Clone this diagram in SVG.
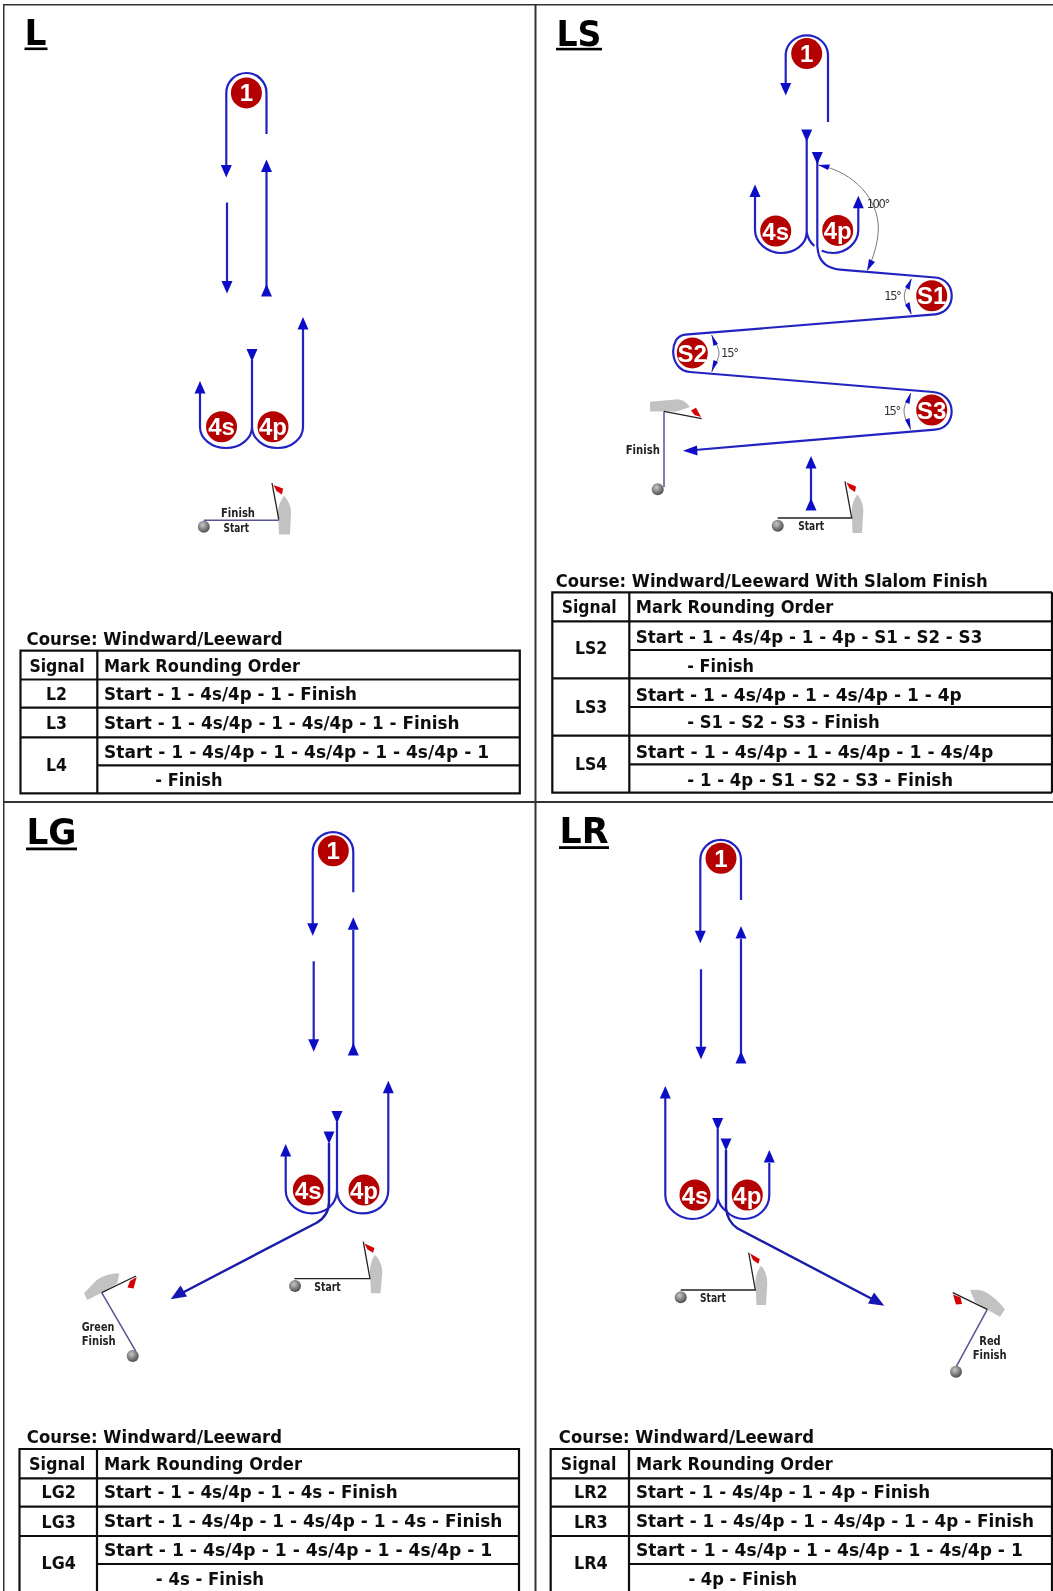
<svg xmlns="http://www.w3.org/2000/svg" xmlns:xlink="http://www.w3.org/1999/xlink" width="1053" height="1591" viewBox="0 0 1053 1591">
<style>
text{font-family:"DejaVu Sans","Liberation Sans",sans-serif;fill:#111}
.ti{font-weight:700;font-size:36px;fill:#000}
.c{font-weight:700;font-size:17px}
.t{font-weight:700;font-size:17px}
.sm{font-weight:700;font-size:11.5px;fill:#222}
.ang{font-size:11.5px;fill:#333}
.m{font-family:"Liberation Sans",Arial,sans-serif;font-weight:700;font-size:24px;fill:#fff;text-anchor:middle}
.mk{fill:#b50303}
.tb{fill:none;stroke:#111;stroke-width:2.2}
.fr{fill:none;stroke:#333;stroke-width:2}
.r{fill:none;stroke:#2222c0;stroke-width:2.2}
.d{fill:none;stroke:#1a1aa8;stroke-width:2.4}
.a{fill:#1010c8}
.g{fill:none;stroke:#777;stroke-width:1}
.boat{fill:#c2c2c2}
.flag{fill:#d40000}
.pole{fill:none;stroke:#222;stroke-width:1.3}
.ln{fill:none;stroke:#555590;stroke-width:1.5}
.ball{fill:url(#bg)}
</style>
<defs>
<radialGradient id="bg" cx="0.4" cy="0.35" r="0.7"><stop offset="0" stop-color="#c8c8c8"/><stop offset="1" stop-color="#444"/></radialGradient>
<path id="ad" class="a" d="M-5.5 0H5.5L0 12.5z"/>
<path id="au" class="a" d="M-5.5 12.5H5.5L0 0z"/>
<filter id="soft" x="0" y="0" width="100%" height="100%"><feGaussianBlur stdDeviation="0.4"/></filter>
</defs>
<rect width="1053" height="1591" fill="#fff"/>
<g filter="url(#soft)">
<g id="frame">
<path class="fr" d="M3.5 1591V4.5H1053M535.5 4.5V1591M3.5 802H1053"/>
</g>

<g id="titles">
<text class="ti" x="24.5" y="44.5" textLength="22" lengthAdjust="spacingAndGlyphs">L</text><rect x="24.5" y="47.5" width="23" height="2.6"/>
<text class="ti" x="556.5" y="45.5" textLength="45" lengthAdjust="spacingAndGlyphs">LS</text><rect x="556" y="47.8" width="46" height="2.6"/>
<text class="ti" x="26.5" y="844" textLength="50" lengthAdjust="spacingAndGlyphs">LG</text><rect x="26" y="847.5" width="51" height="2.8"/>
<text class="ti" x="559.5" y="842.7" textLength="49" lengthAdjust="spacingAndGlyphs">LR</text><rect x="559" y="846.2" width="50" height="2.8"/>
</g>

<g id="connectors">
<!-- L -->
<path class="r" d="M226.3 165V93A20.1 20 0 0 1 266.5 93V134M227 202.5V281M266.5 171V295M252 360V428M200 392V427A26 21 0 0 0 252 427A25.5 21 0 0 0 303 427V329"/>
<use xlink:href="#ad" x="226.3" y="165"/><use xlink:href="#ad" x="227" y="281"/><use xlink:href="#au" x="266.5" y="159.6"/><use xlink:href="#au" x="266.5" y="284"/><use xlink:href="#ad" x="252" y="349"/><use xlink:href="#au" x="200" y="381"/><use xlink:href="#au" x="303" y="317"/>
<!-- LS -->
<path class="r" d="M785.7 85V54A21.2 20 0 0 1 828 54V122M806.7 140V232M755 196V230C755 243 768 253 781 253C794 253 806.7 245 806.7 232C807.5 238 811 243 814.3 246M858.3 207V230C858.3 243 846 253 833 253C829 253 825 252 821.7 250.7M811 468V509"/>
<path class="r" d="M817.3 153V246C818 262 828 268.5 840 269.6L935 277.5C957.3 279 957.3 312.5 935 314.3L685 334.6C668.5 336 668.5 370.5 690 372L933 392C957.5 394 957.5 428 935 429.6L695 450"/>
<use xlink:href="#ad" x="785.7" y="83"/><use xlink:href="#ad" x="806.7" y="129.6"/><use xlink:href="#ad" x="817.3" y="152"/><use xlink:href="#au" x="755" y="184.6"/><use xlink:href="#au" x="858.3" y="195.7"/><use xlink:href="#au" x="811" y="456"/><use xlink:href="#au" x="811" y="498"/>
<polygon class="a" points="683,450.7 697,445.5 697.5,455.5"/>
<path class="g" d="M818.3 165C855 172 878.3 200 878.3 228C878.3 243 873 258 867.7 270M911 279C908 285 904.3 291 904.3 296C904.3 302 908 308 911 314M711.7 335C714 341 719 347 719 353C719 359 714 366 711.7 372M910.7 393C908 399 904 405 904 411C904 417 908 424 910.7 430"/>
<polygon class="a" points="818,165 830,164.5 828,170"/>
<polygon class="a" points="867,271 869,259 875,262"/>
<polygon class="a" points="911.7,278.6 905,287 909.5,290"/>
<polygon class="a" points="911.7,314.5 905,305 909.5,302"/>
<polygon class="a" points="711.5,334.6 718,344 713.5,346"/>
<polygon class="a" points="711.5,372 718,362 713.5,360"/>
<polygon class="a" points="911,392.8 905,402 909.5,404"/>
<polygon class="a" points="911,429.8 905,420 909.5,418"/>
<!-- LG -->
<path class="r" d="M312.7 925V852A20.3 20 0 0 1 353.3 852V892.3M313.7 961.3V1040M353.3 930V1054M337 1122V1190M285.7 1156V1190C285.7 1205 300 1213.3 312 1213.3C325 1213.3 337 1205 337 1190C337 1205 350 1213.3 362 1213.3C376 1213.3 388.3 1205 388.3 1190V1093"/>
<use xlink:href="#ad" x="312.7" y="923.2"/><use xlink:href="#ad" x="313.7" y="1039.2"/><use xlink:href="#au" x="353.3" y="917.3"/><use xlink:href="#au" x="353.3" y="1043"/><use xlink:href="#ad" x="337" y="1111"/><use xlink:href="#ad" x="329" y="1131.5"/><use xlink:href="#au" x="285.7" y="1144"/><use xlink:href="#au" x="388.3" y="1080.7"/>
<path class="d" d="M329 1143V1201.7C329 1212 323 1219 316.7 1222.7L182 1293"/>
<polygon fill="#1414b4" points="170.7,1299.3 180.5,1285.5 187,1296.5"/>
<!-- LR -->
<path class="r" d="M700.3 933V860A20.3 20 0 0 1 741 860V900M701 969.3V1048M741 939V1062M717.7 1129V1198M665.3 1098V1195C665.3 1209 680 1219 692 1219C705 1219 717.7 1210 717.7 1198C718.5 1203 722 1208 726.7 1211.7C730 1216 738 1219 744 1219C757 1219 769.3 1209 769.3 1195V1163"/>
<use xlink:href="#ad" x="700.3" y="930.8"/><use xlink:href="#ad" x="701" y="1046.8"/><use xlink:href="#au" x="741" y="926"/><use xlink:href="#au" x="741" y="1051"/><use xlink:href="#ad" x="717.7" y="1118"/><use xlink:href="#ad" x="726" y="1138.5"/><use xlink:href="#au" x="665.3" y="1086"/><use xlink:href="#au" x="769.3" y="1150"/>
<path class="d" d="M726 1150V1208C727 1218 731 1224 737.3 1228.3L874 1300"/>
<polygon fill="#1414b4" points="884.3,1305.7 868,1303.5 874,1292.5"/>
</g>

<g id="mark-L-1"><circle class="mk" cx="246.4" cy="92.9" r="15.5"/><text class="m" x="246.4" y="101">1</text></g>
<g id="mark-L-4s"><circle class="mk" cx="221.5" cy="426.8" r="15.5"/><text class="m" x="221.5" y="435">4s</text></g>
<g id="mark-L-4p"><circle class="mk" cx="273" cy="426.8" r="15.5"/><text class="m" x="273" y="435">4p</text></g>
<g id="mark-LS-1"><circle class="mk" cx="806.7" cy="53.6" r="15.5"/><text class="m" x="806.7" y="62">1</text></g>
<g id="mark-LS-4s"><circle class="mk" cx="775.7" cy="231" r="15.5"/><text class="m" x="775.7" y="239.5">4s</text></g>
<g id="mark-LS-4p"><circle class="mk" cx="837.7" cy="230.4" r="15.5"/><text class="m" x="837.7" y="239">4p</text></g>
<g id="mark-LS-S1"><circle class="mk" cx="931.7" cy="295.7" r="15.5"/><text class="m" x="931.7" y="304.3">S1</text></g>
<g id="mark-LS-S2"><circle class="mk" cx="692.3" cy="352.9" r="15.5"/><text class="m" x="692.3" y="361.5">S2</text></g>
<g id="mark-LS-S3"><circle class="mk" cx="931.7" cy="410" r="15.5"/><text class="m" x="931.7" y="418.6">S3</text></g>
<g id="mark-LG-1"><circle class="mk" cx="333.3" cy="850.7" r="15.5"/><text class="m" x="333.3" y="859">1</text></g>
<g id="mark-LG-4s"><circle class="mk" cx="308.3" cy="1190" r="15.5"/><text class="m" x="308.3" y="1198.5">4s</text></g>
<g id="mark-LG-4p"><circle class="mk" cx="364" cy="1190" r="15.5"/><text class="m" x="364" y="1198.5">4p</text></g>
<g id="mark-LR-1"><circle class="mk" cx="721" cy="858.3" r="15.5"/><text class="m" x="721" y="866.8">1</text></g>
<g id="mark-LR-4s"><circle class="mk" cx="695" cy="1195" r="15.5"/><text class="m" x="695" y="1203.5">4s</text></g>
<g id="mark-LR-4p"><circle class="mk" cx="747.3" cy="1195" r="15.5"/><text class="m" x="747.3" y="1203.5">4p</text></g>

<g id="angles">
<text class="ang" x="866.7" y="207.9" textLength="23.5">100°</text>
<text class="ang" x="884.3" y="300" textLength="17.5">15°</text>
<text class="ang" x="721" y="357" textLength="18">15°</text>
<text class="ang" x="883.7" y="415" textLength="17.5">15°</text>
</g>

<g id="line-L">
<path class="boat" d="M284 495.7C288 500 291 506 291 512L290 534.6H279L278 512C278 506 281 500 284 495.7z"/>
<path class="ln" d="M203.8 520.2H278.8"/><path class="pole" d="M272 483L278.8 519.6"/>
<path class="flag" d="M273.5 485L283 488.5L282 494.5L276.5 491z"/><circle class="ball" cx="203.8" cy="526.8" r="6"/>
<text class="sm" x="221" y="516.8" textLength="34" lengthAdjust="spacingAndGlyphs">Finish</text>
<text class="sm" x="223.5" y="532" textLength="25.5" lengthAdjust="spacingAndGlyphs">Start</text>
</g>
<g id="start-LS">
<path class="boat" d="M857.3 494.6C861 499 863.3 505 863.3 511L862 533H852.5L851.7 511C851.7 505 854 499 857.3 494.6z"/>
<path class="pole" d="M777.7 518H851.7L845 481.4"/>
<path class="flag" d="M846.5 482.5L856 486.5L855 492L849.5 488.5z"/><circle class="ball" cx="777.7" cy="525.7" r="6"/>
<text class="sm" x="798.3" y="530.4" textLength="25.7" lengthAdjust="spacingAndGlyphs">Start</text>
</g>
<g id="finish-LS">
<path class="boat" d="M650 401.8L678 399.3C683 400 687 403 690 407L676.7 411.4H650z"/>
<path class="ln" d="M664 411.4V487"/><path class="pole" d="M664 411.4L701.7 418.6"/>
<path class="flag" d="M691 410.5L696 407.8L701 417L694.5 415z"/><circle class="ball" cx="657.7" cy="489.3" r="6"/>
<text class="sm" x="625.7" y="453.6" textLength="34.3" lengthAdjust="spacingAndGlyphs">Finish</text>
</g>
<g id="start-LG">
<path class="boat" d="M375 1255C379 1259 382.3 1265 382.3 1272L380.5 1293.3H371L370 1272C370 1265 372 1259 375 1255z"/>
<path class="pole" d="M294.3 1278.7H370L363.3 1241.7"/>
<path class="flag" d="M364.5 1243.5L374.5 1248L373 1252.8L367.5 1249.5z"/><circle class="ball" cx="295" cy="1286" r="6"/>
<text class="sm" x="314.3" y="1290.7" textLength="26.4" lengthAdjust="spacingAndGlyphs">Start</text>
</g>
<g id="finish-LG">
<path class="boat" d="M84 1293.3L96.7 1280C103 1275.5 111 1273.5 119.3 1273.3L117.3 1283.3L101.7 1292.7L87.3 1300z"/>
<path class="ln" d="M101.7 1292.7L136 1351.7"/><path class="pole" d="M101.7 1292.7L136 1276"/>
<path class="flag" d="M136.7 1277L133.5 1288.5L127.5 1287.5L130 1281z"/><circle class="ball" cx="132.7" cy="1356" r="6"/>
<text class="sm" x="81.7" y="1330.7" textLength="32.6" lengthAdjust="spacingAndGlyphs">Green</text>
<text class="sm" x="81.7" y="1345" textLength="34" lengthAdjust="spacingAndGlyphs">Finish</text>
</g>
<g id="start-LR">
<path class="boat" d="M761 1265.7C765 1270 767.3 1276 767.3 1283L766 1305H756.5L755.3 1283C755.3 1276 758 1270 761 1265.7z"/>
<path class="pole" d="M680.7 1290H755.3L748.7 1252.7"/>
<path class="flag" d="M750 1253.5L759.8 1259L758.3 1263.8L753 1260z"/><circle class="ball" cx="680.7" cy="1297.3" r="6"/>
<text class="sm" x="700" y="1301.7" textLength="26" lengthAdjust="spacingAndGlyphs">Start</text>
</g>
<g id="finish-LR">
<path class="boat" d="M970 1290C976 1289.5 981 1290 985 1291.7C993 1296 1000 1303 1005 1309.3L1000 1316.7L986.7 1309.3L975 1301.7z"/>
<path class="ln" d="M987.3 1309.3L955.7 1367.7"/><path class="pole" d="M952.7 1292.7L987.3 1309.3"/>
<path class="flag" d="M953 1294.5L960.5 1297.5L962 1304L956 1304.5z"/><circle class="ball" cx="956" cy="1371.7" r="6"/>
<text class="sm" x="979.3" y="1345" textLength="21.4" lengthAdjust="spacingAndGlyphs">Red</text>
<text class="sm" x="972.7" y="1359" textLength="34" lengthAdjust="spacingAndGlyphs">Finish</text>
</g>

<g id="table-L">
<text class="c" x="26.6" y="645" textLength="256" lengthAdjust="spacingAndGlyphs">Course: Windward/Leeward</text>
<path class="tb" d="M20.5 650.7H519.8V793.3H20.5zM97.3 650.7V793.3M20.5 679.5H519.8M20.5 707.7H519.8M20.5 737.3H519.8M97.3 765.3H519.8"/>
<text class="t" x="29.4" y="671.7" textLength="55.2" lengthAdjust="spacingAndGlyphs">Signal</text>
<text class="t" x="104" y="671.7" textLength="196" lengthAdjust="spacingAndGlyphs">Mark Rounding Order</text>
<text class="t" x="46" y="700" textLength="21" lengthAdjust="spacingAndGlyphs">L2</text>
<text class="t" x="104" y="700" textLength="253" lengthAdjust="spacingAndGlyphs">Start - 1 - 4s/4p - 1 - Finish</text>
<text class="t" x="46" y="729" textLength="21" lengthAdjust="spacingAndGlyphs">L3</text>
<text class="t" x="104" y="729" textLength="355.4" lengthAdjust="spacingAndGlyphs">Start - 1 - 4s/4p - 1 - 4s/4p - 1 - Finish</text>
<text class="t" x="46" y="770.7" textLength="21" lengthAdjust="spacingAndGlyphs">L4</text>
<text class="t" x="104" y="757.7" textLength="385" lengthAdjust="spacingAndGlyphs">Start - 1 - 4s/4p - 1 - 4s/4p - 1 - 4s/4p - 1</text>
<text class="t" x="155.3" y="786" textLength="67.2" lengthAdjust="spacingAndGlyphs">- Finish</text>
</g>

<g id="table-LS">
<text class="c" x="555.7" y="587" textLength="432" lengthAdjust="spacingAndGlyphs">Course: Windward/Leeward With Slalom Finish</text>
<path class="tb" d="M1052 592.3H552.3V792.7H1052M629.3 592.3V792.7M552.3 621.3H1052M629.3 650H1052M552.3 678.3H1052M629.3 707H1052M552.3 735.7H1052M629.3 764.3H1052M1052 592.3V792.7"/>
<text class="t" x="561.7" y="613.3" textLength="55" lengthAdjust="spacingAndGlyphs">Signal</text>
<text class="t" x="635.7" y="613.3" textLength="197.6" lengthAdjust="spacingAndGlyphs">Mark Rounding Order</text>
<text class="t" x="575" y="654.3" textLength="32.3" lengthAdjust="spacingAndGlyphs">LS2</text>
<text class="t" x="635.7" y="643.3" textLength="346.6" lengthAdjust="spacingAndGlyphs">Start - 1 - 4s/4p - 1 - 4p - S1 - S2 - S3</text>
<text class="t" x="687.3" y="671.7" textLength="66.7" lengthAdjust="spacingAndGlyphs">- Finish</text>
<text class="t" x="575" y="712.7" textLength="32.3" lengthAdjust="spacingAndGlyphs">LS3</text>
<text class="t" x="635.7" y="700.7" textLength="326" lengthAdjust="spacingAndGlyphs">Start - 1 - 4s/4p - 1 - 4s/4p - 1 - 4p</text>
<text class="t" x="687.3" y="728.3" textLength="192.4" lengthAdjust="spacingAndGlyphs">- S1 - S2 - S3 - Finish</text>
<text class="t" x="575" y="770" textLength="32.3" lengthAdjust="spacingAndGlyphs">LS4</text>
<text class="t" x="635.7" y="757.7" textLength="357.6" lengthAdjust="spacingAndGlyphs">Start - 1 - 4s/4p - 1 - 4s/4p - 1 - 4s/4p</text>
<text class="t" x="687.3" y="785.7" textLength="265.7" lengthAdjust="spacingAndGlyphs">- 1 - 4p - S1 - S2 - S3 - Finish</text>
</g>

<g id="table-LG">
<text class="c" x="26.8" y="1443" textLength="255.2" lengthAdjust="spacingAndGlyphs">Course: Windward/Leeward</text>
<path class="tb" d="M19.5 1591V1449H519V1591M97 1449V1591M19.5 1478.3H519M19.5 1506.7H519M19.5 1536H519M97 1564H519"/>
<text class="t" x="28.9" y="1470" textLength="56.4" lengthAdjust="spacingAndGlyphs">Signal</text>
<text class="t" x="104" y="1470" textLength="198" lengthAdjust="spacingAndGlyphs">Mark Rounding Order</text>
<text class="t" x="41.6" y="1498.3" textLength="34.3" lengthAdjust="spacingAndGlyphs">LG2</text>
<text class="t" x="104" y="1498.3" textLength="293.6" lengthAdjust="spacingAndGlyphs">Start - 1 - 4s/4p - 1 - 4s - Finish</text>
<text class="t" x="41.6" y="1528" textLength="34.3" lengthAdjust="spacingAndGlyphs">LG3</text>
<text class="t" x="104" y="1527.3" textLength="398.4" lengthAdjust="spacingAndGlyphs">Start - 1 - 4s/4p - 1 - 4s/4p - 1 - 4s - Finish</text>
<text class="t" x="41.6" y="1569.3" textLength="34.3" lengthAdjust="spacingAndGlyphs">LG4</text>
<text class="t" x="104" y="1556" textLength="388.3" lengthAdjust="spacingAndGlyphs">Start - 1 - 4s/4p - 1 - 4s/4p - 1 - 4s/4p - 1</text>
<text class="t" x="155.8" y="1585" textLength="108.2" lengthAdjust="spacingAndGlyphs">- 4s - Finish</text>
</g>

<g id="table-LR">
<text class="c" x="558.8" y="1443" textLength="255.2" lengthAdjust="spacingAndGlyphs">Course: Windward/Leeward</text>
<path class="tb" d="M1052 1449H550.7V1591M629 1449V1591M550.7 1478.3H1052M550.7 1506.7H1052M550.7 1536H1052M629 1564H1052M1052 1449V1591"/>
<text class="t" x="560.8" y="1470" textLength="55.7" lengthAdjust="spacingAndGlyphs">Signal</text>
<text class="t" x="636" y="1470" textLength="196.8" lengthAdjust="spacingAndGlyphs">Mark Rounding Order</text>
<text class="t" x="574" y="1498.3" textLength="33.8" lengthAdjust="spacingAndGlyphs">LR2</text>
<text class="t" x="636" y="1498.3" textLength="294" lengthAdjust="spacingAndGlyphs">Start - 1 - 4s/4p - 1 - 4p - Finish</text>
<text class="t" x="574" y="1528" textLength="33.8" lengthAdjust="spacingAndGlyphs">LR3</text>
<text class="t" x="636" y="1527.3" textLength="398" lengthAdjust="spacingAndGlyphs">Start - 1 - 4s/4p - 1 - 4s/4p - 1 - 4p - Finish</text>
<text class="t" x="574" y="1569.3" textLength="33.8" lengthAdjust="spacingAndGlyphs">LR4</text>
<text class="t" x="636" y="1556" textLength="386.8" lengthAdjust="spacingAndGlyphs">Start - 1 - 4s/4p - 1 - 4s/4p - 1 - 4s/4p - 1</text>
<text class="t" x="688.4" y="1585" textLength="108.8" lengthAdjust="spacingAndGlyphs">- 4p - Finish</text>
</g>
</g>
</svg>
